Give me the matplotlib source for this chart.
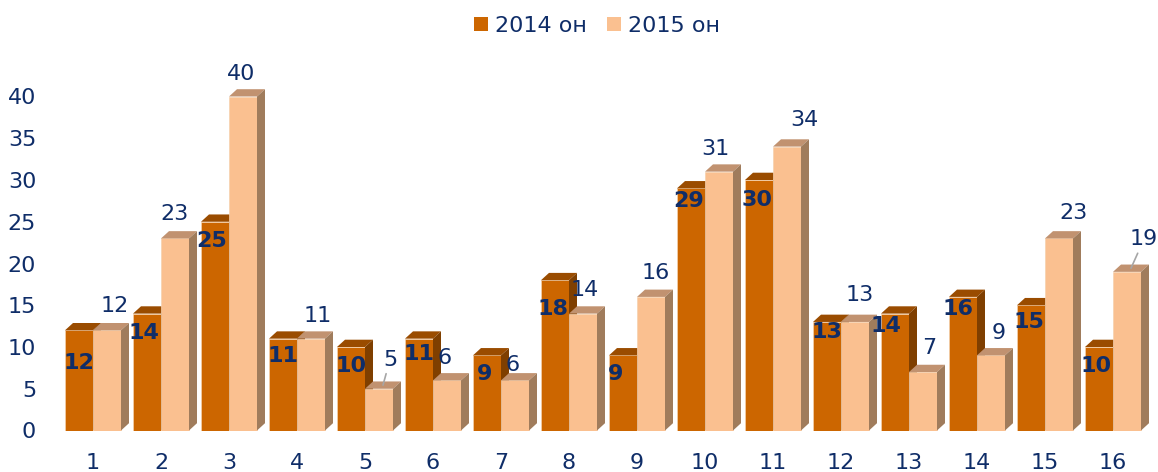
import numpy as np
import matplotlib
matplotlib.use("Agg")
import matplotlib.pyplot as plt
from matplotlib.patches import Polygon, Patch

# ---- data ----
categories = [str(i) for i in range(1, 17)]
series_names = ["2014 он", "2015 он"]
values_2014 = [12, 14, 25, 11, 10, 11, 9, 18, 9, 29, 30, 13, 14, 16, 15, 10]
values_2015 = [12, 23, 40, 11, 5, 6, 6, 14, 16, 31, 34, 13, 7, 9, 23, 19]
y_ticks = [0, 5, 10, 15, 20, 25, 30, 35, 40]

# label nudges (pixels) to mimic the manual placement in the original
lab14_dx = [0, -3, -3, 0, 0, 0, -2, -2, -7, -2, -2, 0, -9, -5, -2, -3]
lab14_dy = [-31, -17, -17, -15, -17, -13, -17, -27, -17, -11, -18, -8, -10, -10, -15, -17]
lab15_dx = [7.5, -1, -1.5, 6.5, 11, -2, -2.5, 2, 5, -4, 17.5, 5, 6, 8, 14.5, 17]
lab15_dy = [26, 26, 24, 24.5, 31, 24.5, 17.5, 25.5, 25.7, 25, 28.5, 28.5, 26, 24, 27.5, 34.5]
leader = [False, False, False, False, True, False, False, False, False, False,
          False, False, False, False, False, True]

# ---- style ----
navy = "#0F2D68"
c14_front, c14_top, c14_side = "#CC6600", "#9A4C00", "#7F3F00"
c15_front, c15_top, c15_side = "#FAC090", "#C19270", "#A07C5C"
FS = 16

W, H = 1158, 472
fig = plt.figure(figsize=(W / 100, H / 100), dpi=100)

# axes placement in pixels
px_unit_x = 68.0
px_unit_y = 8.35
x_first = 93.0
y_zero = 430.5
xlo, xhi = 0.45, 1 + (W - x_first) / px_unit_x
ymax = 45
left_px = x_first - (1 - xlo) * px_unit_x
ax = fig.add_axes([left_px / W, (H - y_zero) / H,
                   (W - left_px) / W, ymax * px_unit_y / H])
ax.set_xlim(xlo, xhi)
ax.set_ylim(0, ymax)

x = np.arange(1, len(categories) + 1)
bw = 28 / px_unit_x
dx = 8 / px_unit_x
dy = 7.3 / px_unit_y

def draw_3d(xc, vals, front, top, side, z):
    ax.bar(xc, vals, width=bw, color=front, edgecolor="#F6D2AE",
           linewidth=0.5, zorder=z)
    for xi, h in zip(xc, vals):
        x0, x1 = xi - bw / 2, xi + bw / 2
        ax.add_patch(Polygon([(x0, h), (x1, h), (x1 + dx, h + dy), (x0 + dx, h + dy)],
                             closed=True, facecolor=top, edgecolor="none", zorder=z))
        ax.add_patch(Polygon([(x1, 0), (x1 + dx, dy), (x1 + dx, h + dy), (x1, h)],
                             closed=True, facecolor=side, edgecolor="none", zorder=z))

x14 = x - bw / 2
x15 = x + bw / 2
draw_3d(x14, values_2014, c14_front, c14_top, c14_side, 2)
draw_3d(x15, values_2015, c15_front, c15_top, c15_side, 3)

# labels
for i in range(len(categories)):
    ax.annotate(str(values_2014[i]), xy=(x14[i], values_2014[i]),
                xytext=(lab14_dx[i], lab14_dy[i]), textcoords="offset pixels",
                ha="center", va="center_baseline", fontsize=FS, fontweight="bold",
                color=navy, zorder=5)
    kw = {}
    if leader[i]:
        kw["arrowprops"] = dict(arrowstyle="-", color="#A6A6A6", lw=1.2,
                                shrinkA=1, shrinkB=0)
    ax.annotate(str(values_2015[i]), xy=(x15[i] + dx / 2, values_2015[i] + dy / 2)
                if leader[i] else (x15[i], values_2015[i]),
                xytext=(lab15_dx[i] - (4 if leader[i] else 0),
                        lab15_dy[i] - (3.5 if leader[i] else 0)),
                textcoords="offset pixels",
                ha="center", va="center_baseline", fontsize=FS,
                color=navy, zorder=5, **kw)

# axes styling
for s in ax.spines.values():
    s.set_visible(False)
ax.set_xticks(x)
ax.set_xticklabels(categories)
ax.set_yticks(y_ticks)
ax.tick_params(axis="both", length=0, labelsize=FS, labelcolor=navy)
ax.tick_params(axis="y", pad=14)
ax.tick_params(axis="x", pad=16)

handles = [Patch(facecolor=c14_front), Patch(facecolor=c15_front)]
fig.legend(handles, series_names, loc="center", bbox_to_anchor=(597 / W, 1 - 26 / H),
           ncol=2, frameon=False, fontsize=FS, labelcolor=navy,
           handlelength=0.63, handleheight=0.63, handletextpad=0.3,
           columnspacing=0.9)

fig.savefig("out.png", dpi=100)
